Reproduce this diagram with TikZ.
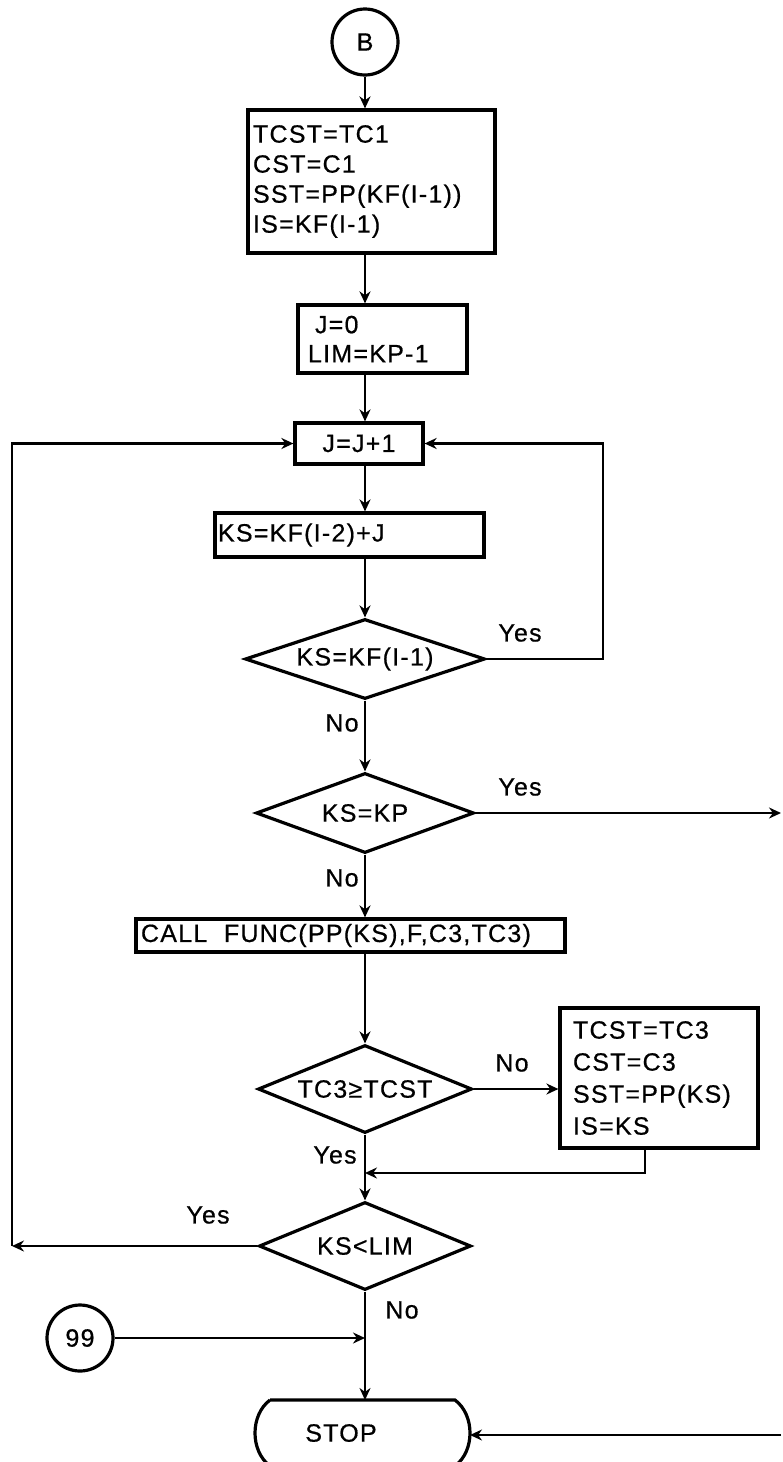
\documentclass[tikz,border=0pt]{standalone}
\usepackage{fontspec}
\setmainfont{Liberation Sans}[LetterSpace=5,FakeBold=0.6]
\usetikzlibrary{shapes.geometric,arrows.meta,calc}
\begin{document}
\begin{tikzpicture}[x=0.5pt,y=-0.5pt,
  font=\fontsize{12.5}{15}\selectfont,
  shp/.style={draw,line width=1.6pt},
  pbox/.style={shp,rectangle,inner ysep=0pt},
  dec/.style={shp,diamond,inner sep=0pt},
  conn/.style={line width=1.3pt},
  arr/.style={conn,-{Stealth[length=6pt,width=5.5pt]}},
  lbl/.style={inner sep=0pt}]
\useasboundingbox (0,0) rectangle (782,1462);

% nodes
\node[shp,circle,minimum size=33pt,inner sep=0pt] (B) at (365,42) {B};
\node[pbox,inner xsep=2.5pt,text width=118.5pt,minimum height=71.5pt,align=left] (b1) at (371.5,181.5)
  {TCST=TC1\\CST=C1\\SST=PP(KF(I-1))\\IS=KF(I-1)};
\node[pbox,inner xsep=5pt,text width=74.5pt,minimum height=34pt,align=left,font=\fontsize{12.5}{14.5}\selectfont] (b2) at (382.5,339)
  {\hspace*{3.5pt}J=0\\LIM=KP-1};
\node[pbox,minimum width=64pt,minimum height=20.5pt] (b3) at (359,443.5) {J=J+1};
\node[pbox,inner xsep=1.5pt,text width=131.5pt,minimum height=22pt,align=left] (b4) at (349.5,535) {KS=KF(I-2)+J};
\node[dec,aspect=3,minimum width=120pt,minimum height=40pt] (d1) at (365,659) {KS=KF(I-1)};
\node[dec,aspect=2.7,minimum width=109pt,minimum height=40pt] (d2) at (365,813) {KS=KP};
\node[pbox,inner xsep=2.5pt,text width=209.5pt,minimum height=16.5pt,align=left] (b5) at (350.5,935.5) {CALL\ \ FUNC(PP(KS),F,C3,TC3)};
\node[dec,aspect=2.43,minimum width=107pt,minimum height=44pt] (d3) at (365,1089) {TC3≥TCST};
\node[pbox,inner xsep=6.5pt,text width=86pt,minimum height=70pt,align=left,font=\fontsize{12.5}{16}\selectfont] (b6) at (659,1078)
  {TCST=TC3\\CST=C3\\SST=PP(KS)\\IS=KS};
\node[dec,aspect=2.4,minimum width=106pt,minimum height=44pt] (d4) at (365,1246) {KS<LIM};
\node[shp,circle,minimum size=33pt,inner sep=0pt] (c99) at (80,1338) {99};

% STOP terminal
\draw[shp] (270,1400) -- (455,1400) .. controls (475,1415) and (475,1451) .. (455,1466)
  -- (270,1466) .. controls (250,1451) and (250,1415) .. (270,1400);
\node[lbl] (stop) at (341,1433) {STOP};
\coordinate (stopTop) at (365,1400);
\coordinate (stopRight) at (470,1435);

% helper coordinates
\coordinate (rloop) at (603,0);
\coordinate (lloop) at (12,0);
\coordinate (edgeR) at (781,0);
\coordinate (b6drop) at (645,1173);

% connectors
\draw[arr] (B.south) -- (B.south |- b1.north);
\draw[arr] (b1.south -| B) -- (b2.north -| B);
\draw[arr] (b2.south -| B) -- (b3.north -| B);
\draw[arr] (b3.south -| B) -- (b4.north -| B);
\draw[arr] (b4.south -| B) -- (d1.north);
\draw[arr] (d1.east) -- (d1.east -| rloop) -- (rloop |- b3.east) -- (b3.east);
\draw[arr] (d1.south) -- (d2.north);
\draw[arr] (d2.east) -- (d2.east -| edgeR);
\draw[arr] (d2.south) -- (d2.south |- b5.north);
\draw[arr] (b5.south -| B) -- (d3.north);
\draw[arr] (d3.east) -- (d3.east -| b6.west);
\draw[arr] (b6.south -| b6drop) -- (b6drop) -- (b6drop -| B);
\draw[arr] (d3.south) -- (d4.north);
\draw[arr] (d4.west) -- (d4.west -| lloop);
\draw[arr] (d4.west -| lloop) -- (lloop |- b3.west) -- (b3.west);
\draw[arr] (d4.south) -- (stopTop);
\draw[arr] (c99.east) -- (c99.east -| B);
\draw[arr] (edgeR |- stopRight) -- (stopRight);

% labels
\node[lbl] (y1) at (520,633) {Yes};
\node[lbl] (n1) at (342,723) {No};
\node[lbl] (y2) at (520,787) {Yes};
\node[lbl] (n2) at (342,878) {No};
\node[lbl] (n3) at (512,1063) {No};
\node[lbl] (y3) at (335,1155) {Yes};
\node[lbl] (y4) at (208,1215) {Yes};
\node[lbl] (n4) at (402,1310) {No};
\end{tikzpicture}
\end{document}
